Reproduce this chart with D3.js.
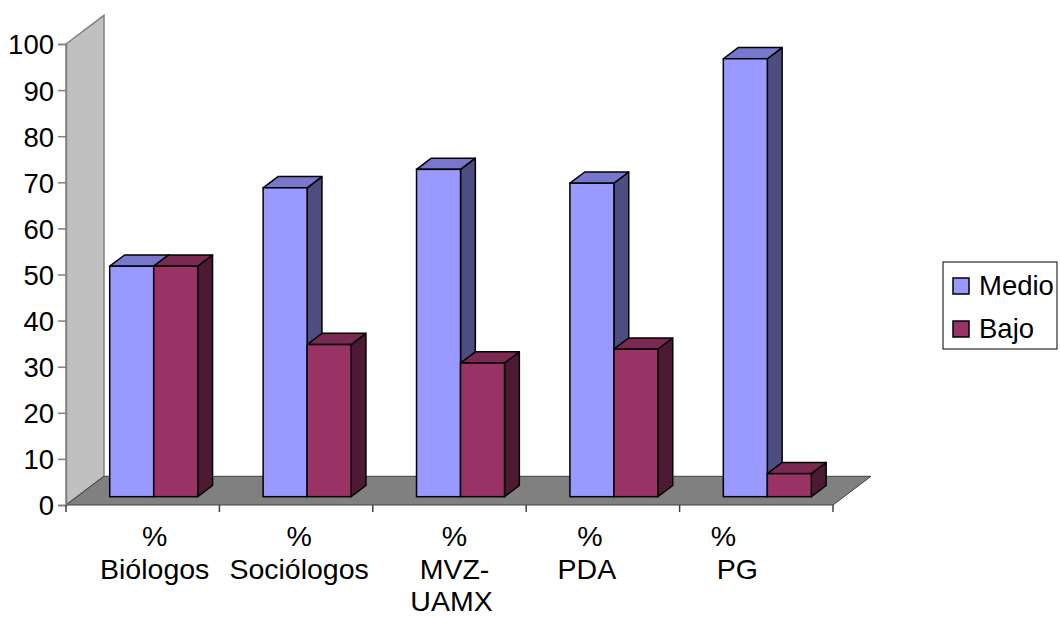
<!DOCTYPE html>
<html>
<head>
<meta charset="utf-8">
<script src="https://cdn.jsdelivr.net/npm/d3@7"></script>
<style>
  html, body { margin: 0; padding: 0; background: #ffffff; }
  svg { display: block; }
  text { font-family: "Liberation Sans", Arial, sans-serif; fill: #000; }
</style>
</head>
<body>
<svg id="chart" width="1060" height="617"></svg>
<script>
// ---- data ----
const categories = ["% Biólogos", "% Sociólogos", "% MVZ-UAMX", "% PDA", "% PG"];
const categoryLines = [["%", "Biólogos"], ["%", "Sociólogos"], ["%", "MVZ-", "UAMX"], ["%", "PDA"], ["%", "PG"]];
const series = ["Medio", "Bajo"];
const medio = [50, 67, 71, 68, 95];
const bajo = [50, 33, 29, 32, 5];
const yTicks = [0, 10, 20, 30, 40, 50, 60, 70, 80, 90, 100];

// ---- layout / style ----
const W = 1060, H = 617;
const plot = { left: 66, right: 833, top: 44, bottom: 505 };
const depth = { dx: 38, dy: -28.7 };       // full floor depth vector
const barDepth = { f0: 0.29, f1: 0.68 };   // bar position along depth
const fontSize = 27.5;
const catFontSize = 28.5;
const colors = {
  Medio: { front: "#9999FF", top: "#7777CC", side: "#4D4D80" },
  Bajo:  { front: "#993366", top: "#7A2952", side: "#4D1A33" }
};
const labelNudge = [[12, 12], [3, 3], [5, 5, 2], [-13, -16], [-33, -19]];

const svg = d3.select("#chart");

const x = d3.scaleBand().domain(categories).range([plot.left, plot.right]).padding(0);
const groupW = x.bandwidth() * 0.5737;
const xs = d3.scaleBand().domain(series)
  .range([(x.bandwidth() - groupW) / 2, (x.bandwidth() + groupW) / 2]).padding(0);
const y = d3.scaleLinear().domain([0, 100]).range([plot.bottom, plot.top]);

// back wall
const wall = [
  [plot.left, plot.top], [plot.left + depth.dx, plot.top + depth.dy],
  [plot.left + depth.dx, plot.bottom + depth.dy], [plot.left, plot.bottom]
];
svg.append("polygon")
  .attr("points", wall.map(p => p.join(",")).join(" "))
  .attr("fill", "#C0C0C0").attr("stroke", "#808080").attr("stroke-width", 1.5);

// floor
const floor = [
  [plot.left, plot.bottom], [plot.left + depth.dx, plot.bottom + depth.dy],
  [plot.right + depth.dx, plot.bottom + depth.dy], [plot.right, plot.bottom]
];
svg.append("polygon")
  .attr("points", floor.map(p => p.join(",")).join(" "))
  .attr("fill", "#808080").attr("stroke", "#404040").attr("stroke-width", 1);

// y axis (ticks + labels)
const yAxis = d3.axisLeft(y).tickValues(yTicks).tickSize(8).tickPadding(4).tickFormat(d3.format("d"));
const gy = svg.append("g").attr("transform", `translate(${plot.left},0)`).call(yAxis);
gy.select(".domain").attr("stroke", "#808080").attr("stroke-width", 1.5);
gy.selectAll(".tick line").attr("stroke", "#808080").attr("stroke-width", 1.5);
gy.selectAll(".tick text")
  .attr("font-family", "Liberation Sans, Arial, sans-serif")
  .attr("font-size", fontSize).attr("fill", "#000").attr("dy", "0.36em");

// category ticks at band boundaries
const bounds = categories.map(c => x(c)).concat([plot.right]);
svg.append("g").selectAll("line").data(bounds).join("line")
  .attr("x1", d => d).attr("x2", d => d)
  .attr("y1", plot.bottom).attr("y2", plot.bottom + 7)
  .attr("stroke", "#404040").attr("stroke-width", 1.5);

// category labels
const lab = svg.append("g");
categories.forEach((c, i) => {
  const cx = x(c) + x.bandwidth() / 2;
  categoryLines[i].forEach((line, j) => {
    lab.append("text")
      .attr("x", cx + labelNudge[i][j])
      .attr("y", 546 + j * 32.5)
      .attr("text-anchor", "middle")
      .attr("font-size", catFontSize)
      .text(line);
  });
});

// bars
const ox0 = depth.dx * barDepth.f0, oy0 = depth.dy * barDepth.f0;
const bdx = depth.dx * (barDepth.f1 - barDepth.f0), bdy = depth.dy * (barDepth.f1 - barDepth.f0);
const bars = svg.append("g");
const valuesBySeries = { Medio: medio, Bajo: bajo };
categories.forEach((c, i) => {
  series.forEach(s => {
    const v = valuesBySeries[s][i];
    const x0 = x(c) + xs(s) + ox0;
    const x1 = x0 + xs.bandwidth();
    const yb = y(0) + oy0;
    const yt = y(v) + oy0;
    const col = colors[s];
    const pts = a => a.map(p => p.join(",")).join(" ");
    // side
    bars.append("polygon")
      .attr("points", pts([[x1, yt], [x1 + bdx, yt + bdy], [x1 + bdx, yb + bdy], [x1, yb]]))
      .attr("fill", col.side).attr("stroke", "#000").attr("stroke-width", 1.5).attr("stroke-linejoin", "round");
    // top
    bars.append("polygon")
      .attr("points", pts([[x0, yt], [x0 + bdx, yt + bdy], [x1 + bdx, yt + bdy], [x1, yt]]))
      .attr("fill", col.top).attr("stroke", "#000").attr("stroke-width", 1.5).attr("stroke-linejoin", "round");
    // front
    bars.append("rect")
      .attr("x", x0).attr("y", yt).attr("width", x1 - x0).attr("height", yb - yt)
      .attr("fill", col.front).attr("stroke", "#000").attr("stroke-width", 1.5);
  });
});

// legend
const lg = svg.append("g");
lg.append("rect").attr("x", 943).attr("y", 262).attr("width", 114).attr("height", 87)
  .attr("fill", "#fff").attr("stroke", "#000").attr("stroke-width", 1);
series.forEach((s, k) => {
  const yy = 278 + k * 43;
  lg.append("rect").attr("x", 953).attr("y", yy).attr("width", 16).attr("height", 16)
    .attr("fill", colors[s].front).attr("stroke", "#000").attr("stroke-width", 1.5);
  lg.append("text").attr("x", 979).attr("y", yy + 17).attr("font-size", fontSize).text(s);
});
</script>
</body>
</html>
